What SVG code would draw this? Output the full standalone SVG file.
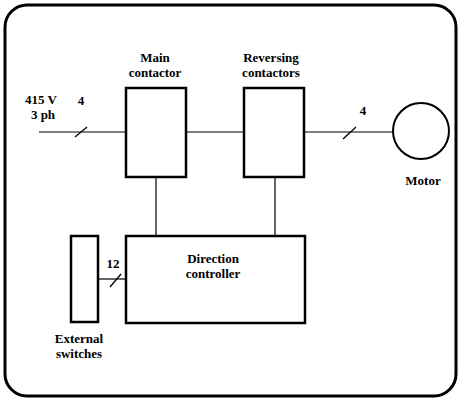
<svg xmlns="http://www.w3.org/2000/svg" width="460" height="399" viewBox="0 0 460 399" font-family="'Liberation Serif', 'Times New Roman', serif">
<style>
.box{fill:#fff;stroke:#000;stroke-width:2.5}
.ln{fill:none;stroke:#000;stroke-width:1.2}
.sl{fill:none;stroke:#000;stroke-width:1.3}
.t{font-family:'Liberation Serif','Times New Roman',serif;font-size:13px;font-weight:bold;fill:#000;text-anchor:middle}
</style>
<rect x="5" y="5" width="451" height="391" rx="22" ry="22" fill="#fff" stroke="#000" stroke-width="3"/>
<g id="connectors">
<line class="ln" x1="39" y1="132" x2="126" y2="132"/>
<line class="sl" x1="75" y1="137" x2="87" y2="127"/>
<line class="ln" x1="186" y1="132" x2="244" y2="132"/>
<line class="ln" x1="304" y1="132" x2="393" y2="132"/>
<line class="sl" x1="343" y1="139" x2="356" y2="127"/>
<line class="ln" x1="156" y1="177" x2="156" y2="236"/>
<line class="ln" x1="275" y1="177" x2="275" y2="236"/>
<line class="ln" x1="98" y1="279" x2="126" y2="279"/>
<line class="sl" x1="110" y1="287" x2="121" y2="274"/>
<text class="t" x="41" y="104">415 V</text>
<text class="t" x="43" y="119">3 ph</text>
<text class="t" x="81" y="105">4</text>
<text class="t" x="363" y="115">4</text>
<text class="t" x="113" y="268">12</text>
</g>
<g id="main-contactor">
<rect class="box" x="126" y="88" width="60" height="89"/>
<text class="t" x="155" y="62">Main</text>
<text class="t" x="155" y="77">contactor</text>
</g>
<g id="reversing-contactors">
<rect class="box" x="244" y="88" width="60" height="89"/>
<text class="t" x="271" y="62">Reversing</text>
<text class="t" x="271" y="77">contactors</text>
</g>
<g id="motor">
<circle cx="421" cy="131" r="28" fill="#fff" stroke="#000" stroke-width="2"/>
<text class="t" x="423" y="185">Motor</text>
</g>
<g id="direction-controller">
<rect class="box" x="126" y="236" width="179" height="87"/>
<text class="t" x="213" y="263">Direction</text>
<text class="t" x="213" y="278">controller</text>
</g>
<g id="external-switches">
<rect class="box" x="71" y="236" width="27" height="86"/>
<text class="t" x="79" y="343">External</text>
<text class="t" x="79" y="358">switches</text>
</g>
</svg>
